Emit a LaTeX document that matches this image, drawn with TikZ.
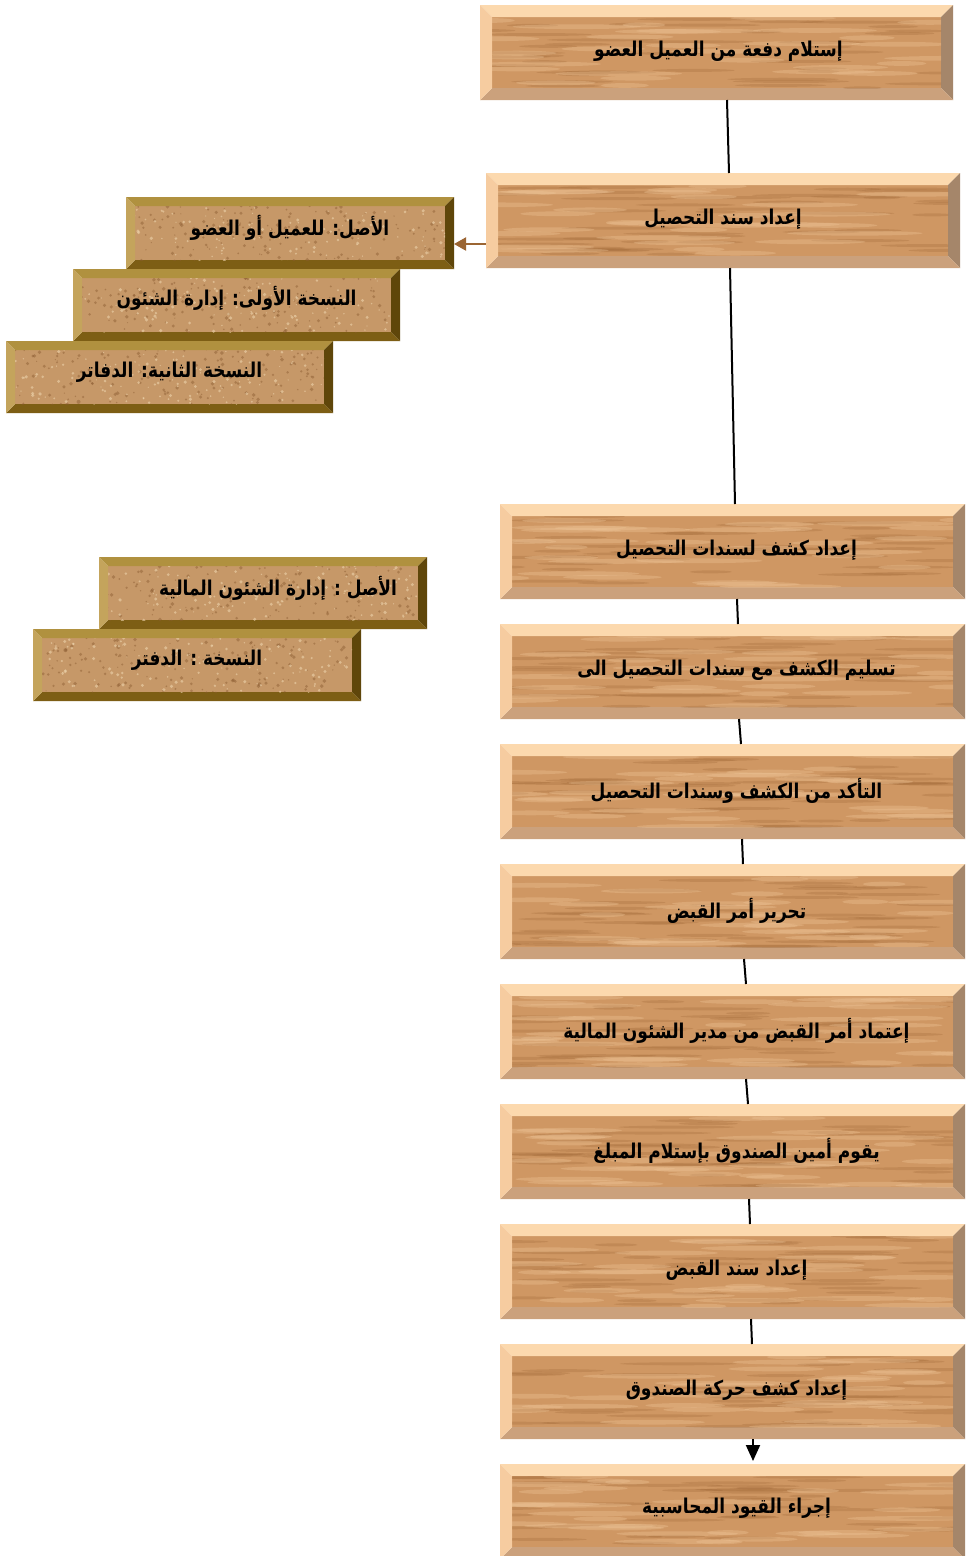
\documentclass[tikz,border=0pt]{standalone}
\usepackage{fontspec}
\newfontfamily\arabicfont[Script=Arabic]{DejaVu Sans}
\TeXXeTstate=1
\usetikzlibrary{arrows.meta,calc}

\definecolor{woodface}{HTML}{CF9763}
\definecolor{woodtop}{HTML}{FCD9AE}
\definecolor{woodleft}{HTML}{F6CCA0}
\definecolor{woodbottom}{HTML}{CBA17C}
\definecolor{woodright}{HTML}{A5866A}
\definecolor{woodlight}{HTML}{EFC698}
\definecolor{wooddark}{HTML}{9A6232}
\definecolor{corkface}{HTML}{C69868}
\definecolor{corktop}{HTML}{B0913F}
\definecolor{corkleft}{HTML}{C4A45C}
\definecolor{corkbottom}{HTML}{7D5E14}
\definecolor{corkright}{HTML}{5F460A}
\definecolor{corkdark}{HTML}{8A5A30}
\definecolor{corklight}{HTML}{EDD3AC}
\definecolor{sidearrow}{HTML}{9B6533}

\newcommand\tall[1]{\scalebox{1}[1.2]{#1}}

\tikzset{
  frame/.style={rectangle, draw=none, inner sep=0pt, outer sep=0pt, anchor=north west},
  woodtext/.style={font=\arabicfont\bfseries\fontsize{17}{20}\selectfont, text=black, inner sep=0pt},
  corktext/.style={font=\arabicfont\bfseries\fontsize{17}{20}\selectfont, text=black, inner sep=0pt},
  conn/.style={line width=2pt, black},
  sideconn/.style={line width=2pt, sidearrow, -{Triangle[width=13pt,length=12pt]}}
}

% bevelled panel: #1 name, #2 x, #3 y, #4 width, #5 height, #6 bevel, #7 colour prefix
\newcommand\panel[7]{%
  \node[frame, minimum width=#4pt, minimum height=#5pt] (#1) at (#2,#3) {};
  \fill[#7face] ([shift={(#6,#6)}]#1.north west) rectangle ([shift={(-#6,-#6)}]#1.south east);
  \fill[#7top] (#1.north west) -- (#1.north east) -- ([shift={(-#6,#6)}]#1.north east) -- ([shift={(#6,#6)}]#1.north west) -- cycle;
  \fill[#7right] (#1.north east) -- (#1.south east) -- ([shift={(-#6,-#6)}]#1.south east) -- ([shift={(-#6,#6)}]#1.north east) -- cycle;
  \fill[#7bottom] (#1.south east) -- (#1.south west) -- ([shift={(#6,-#6)}]#1.south west) -- ([shift={(-#6,-#6)}]#1.south east) -- cycle;
  \fill[#7left] (#1.south west) -- (#1.north west) -- ([shift={(#6,#6)}]#1.north west) -- ([shift={(#6,-#6)}]#1.south west) -- cycle;
}

% wood grain streaks on the face of a panel
\newcommand\woodgrain[5]{%
  \begin{scope}
    \clip ([shift={(12,12)}]#1.north west) rectangle ([shift={(-12,-12)}]#1.south east);
    \foreach \i in {1,...,40} {
      \pgfmathsetmacro\rx{#2+#4*rnd}
      \pgfmathsetmacro\ry{#3+12+(#5-24)*rnd}
      \pgfmathsetmacro\rl{18+45*rnd}
      \fill[wooddark, opacity=0.25] (\rx,\ry) ellipse [x radius=\rl, y radius=1.5];
    }
    \foreach \i in {1,...,30} {
      \pgfmathsetmacro\rx{#2+#4*rnd}
      \pgfmathsetmacro\ry{#3+12+(#5-24)*rnd}
      \pgfmathsetmacro\rl{20+50*rnd}
      \fill[woodlight, opacity=0.35] (\rx,\ry) ellipse [x radius=\rl, y radius=2.4];
    }
  \end{scope}
}

% speckled cork face of a panel
\newcommand\corkgrain[5]{%
  \begin{scope}
    \clip ([shift={(9,9)}]#1.north west) rectangle ([shift={(-9,-9)}]#1.south east);
    \foreach \i in {1,...,200} {
      \pgfmathsetmacro\rx{#2+#4*rnd}
      \pgfmathsetmacro\ry{#3+#5*rnd}
      \pgfmathsetmacro\rr{0.6+1.4*rnd}
      \fill[corkdark, opacity=0.45] (\rx,\ry) circle [radius=\rr];
    }
    \foreach \i in {1,...,170} {
      \pgfmathsetmacro\rx{#2+#4*rnd}
      \pgfmathsetmacro\ry{#3+#5*rnd}
      \pgfmathsetmacro\rr{0.6+1.2*rnd}
      \fill[corklight, opacity=0.6] (\rx,\ry) circle [radius=\rr];
    }
  \end{scope}
}

\newcommand\woodpanel[5]{\panel{#1}{#2}{#3}{#4}{#5}{12}{wood}\woodgrain{#1}{#2}{#3}{#4}{#5}}
\newcommand\corkpanel[5]{\panel{#1}{#2}{#3}{#4}{#5}{9}{cork}\corkgrain{#1}{#2}{#3}{#4}{#5}}

\begin{document}
\begin{tikzpicture}[x=1pt, y=-1pt]
\pgfmathsetseed{7}
\useasboundingbox (0,0) rectangle (966,1556);
\fill[white] (0,0) rectangle (966,1556);

% main column of steps
\woodpanel{s1}{480}{5}{473}{95}
\woodpanel{s2}{486}{173}{474}{95}
\woodpanel{s3}{500}{504}{465}{95}
\woodpanel{s4}{500}{624}{465}{95}
\woodpanel{s5}{500}{744}{465}{95}
\woodpanel{s6}{500}{864}{465}{95}
\woodpanel{s7}{500}{984}{465}{95}
\woodpanel{s8}{500}{1104}{465}{95}
\woodpanel{s9}{500}{1224}{465}{95}
\woodpanel{s10}{500}{1344}{465}{95}
\woodpanel{s11}{500}{1464}{465}{95}

\node[woodtext] (s1-t) at ([xshift=2pt,yshift=1pt]s1.center) {\tall{\beginR إستلام دفعة من العميل العضو\endR}};
\node[woodtext] (s2-t) at ([yshift=1pt]s2.center) {\tall{\beginR إعداد سند التحصيل\endR}};
\node[woodtext] (s3-t) at ([xshift=4pt,yshift=1pt]s3.center) {\tall{\beginR إعداد كشف لسندات التحصيل\endR}};
\node[woodtext] (s4-t) at ([xshift=4pt,yshift=1pt]s4.center) {\tall{\beginR تسليم الكشف مع سندات التحصيل الى\endR}};
\node[woodtext] (s5-t) at ([xshift=4pt,yshift=1pt]s5.center) {\tall{\beginR التأكد من الكشف وسندات التحصيل\endR}};
\node[woodtext] (s6-t) at ([xshift=4pt,yshift=1pt]s6.center) {\tall{\beginR تحرير أمر القبض\endR}};
\node[woodtext] (s7-t) at ([xshift=4pt,yshift=1pt]s7.center) {\tall{\beginR إعتماد أمر القبض من مدير الشئون المالية\endR}};
\node[woodtext] (s8-t) at ([xshift=4pt,yshift=1pt]s8.center) {\tall{\beginR يقوم أمين الصندوق بإستلام المبلغ\endR}};
\node[woodtext] (s9-t) at ([xshift=4pt,yshift=1pt]s9.center) {\tall{\beginR إعداد سند القبض\endR}};
\node[woodtext] (s10-t) at ([xshift=4pt,yshift=1pt]s10.center) {\tall{\beginR إعداد كشف حركة الصندوق\endR}};
\node[woodtext] (s11-t) at ([xshift=4pt,yshift=3pt]s11.center) {\tall{\beginR إجراء القيود المحاسبية\endR}};

% copies of the collection voucher
\corkpanel{c1}{126}{197}{328}{72}
\corkpanel{c2}{73}{269}{327}{72}
\corkpanel{c3}{6}{341}{327}{72}
\node[corktext] (c1-t) at ([yshift=5pt]c1.center) {\tall{\beginR الأصل: للعميل أو العضو\endR}};
\node[corktext] (c2-t) at ([yshift=7pt]c2.center) {\tall{\beginR النسخة الأولى: إدارة الشئون\endR}};
\node[corktext] (c3-t) at ([yshift=5pt]c3.center) {\tall{\beginR النسخة الثانية: الدفاتر\endR}};

% copies of the receipt order
\corkpanel{c4}{99}{557}{328}{72}
\corkpanel{c5}{33}{629}{328}{72}
\node[corktext] (c4-t) at ([xshift=15pt,yshift=5pt]c4.center) {\tall{\beginR الأصل : إدارة الشئون المالية\endR}};
\node[corktext] (c5-t) at ([yshift=5pt]c5.center) {\tall{\beginR النسخة : الدفتر\endR}};

% connectors
\draw[conn] ([xshift=10.5pt]s1.south) -- ([xshift=6pt]s2.north);
\draw[conn] ([xshift=7pt]s2.south) -- ([xshift=2.5pt]s3.north);
\draw[conn] ([xshift=4.5pt]s3.south) -- ([xshift=5.5pt]s4.north);
\draw[conn] ([xshift=6.5pt]s4.south) -- ([xshift=8.5pt]s5.north);
\draw[conn] ([xshift=9.5pt]s5.south) -- ([xshift=10.5pt]s6.north);
\draw[conn] ([xshift=11.5pt]s6.south) -- ([xshift=13.5pt]s7.north);
\draw[conn] ([xshift=13.5pt]s7.south) -- ([xshift=15.5pt]s8.north);
\draw[conn] ([xshift=16.5pt]s8.south) -- ([xshift=17.5pt]s9.north);
\draw[conn] ([xshift=18.5pt]s9.south) -- ([xshift=19.5pt]s10.north);
\draw[conn, -{Triangle[width=14pt,length=16pt]}, shorten >=3pt] ([xshift=20.5pt]s10.south) -- ([xshift=20.5pt]s11.north);

\draw[sideconn] ([yshift=-23.5pt]s2.west) -- ([yshift=-11pt]c1.east);
\end{tikzpicture}
\end{document}
